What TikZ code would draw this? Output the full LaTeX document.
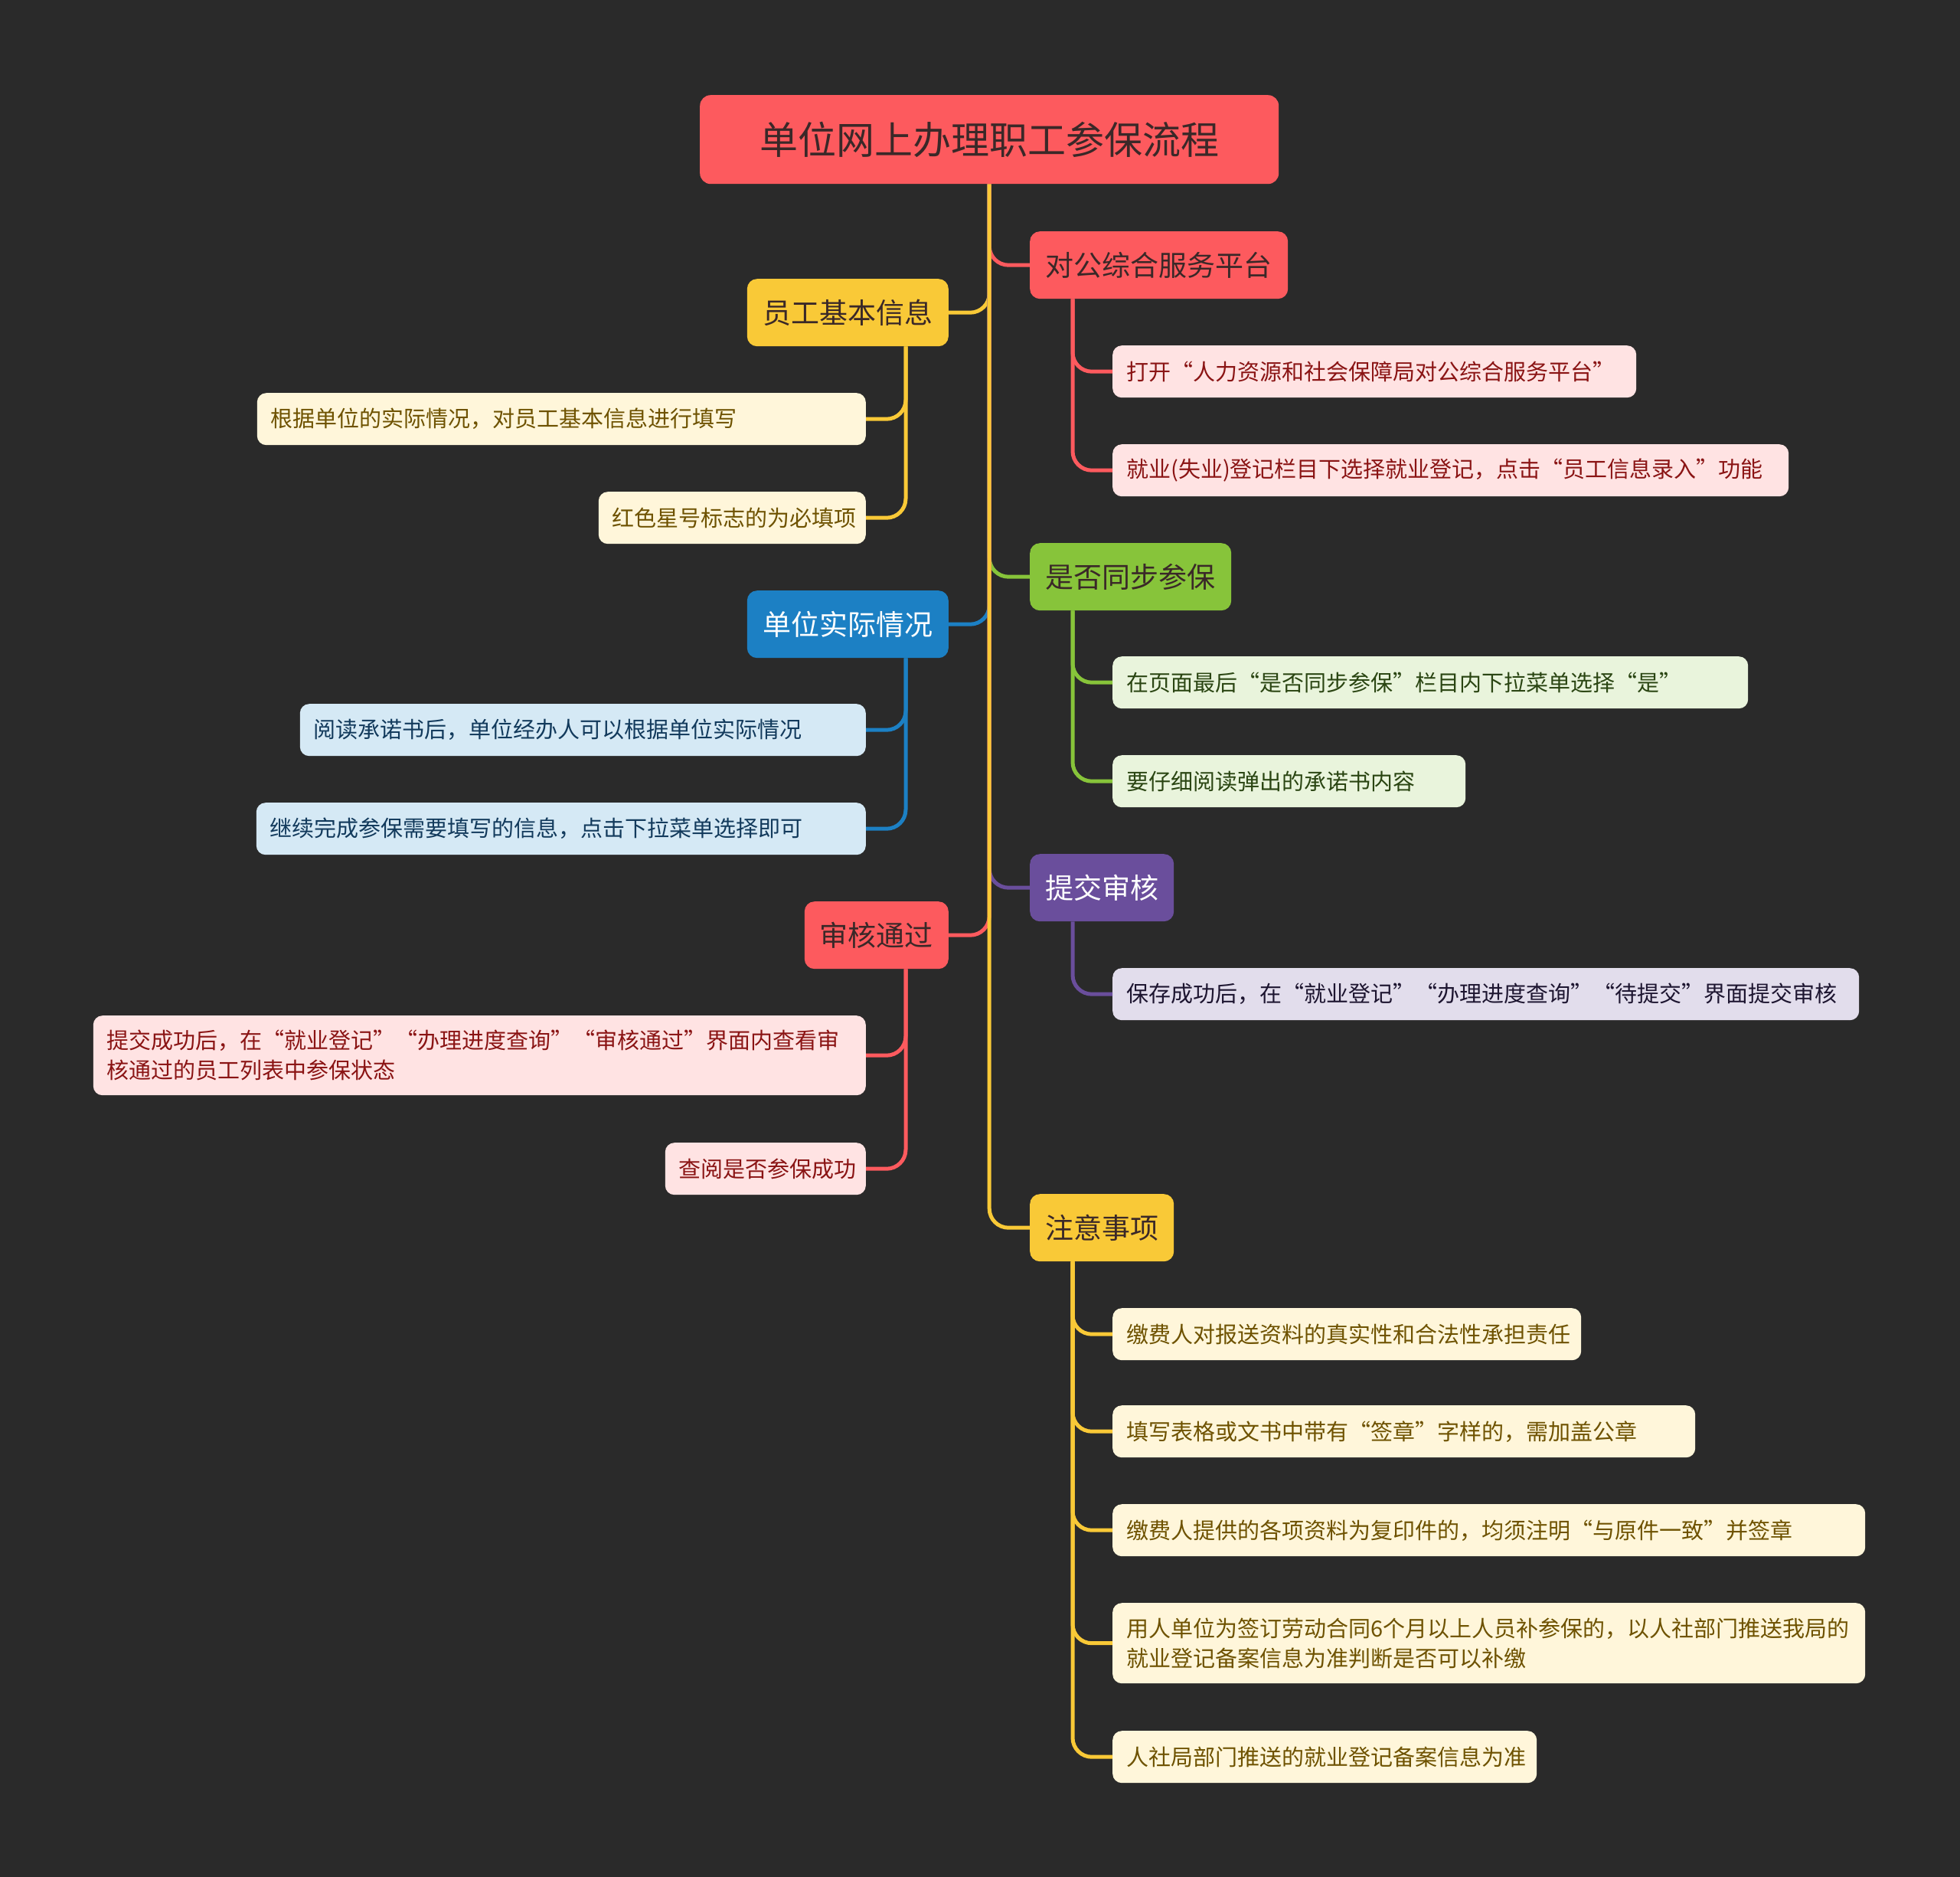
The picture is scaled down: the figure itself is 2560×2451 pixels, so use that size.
\documentclass[tikz,border=0pt]{standalone}
\usepackage{fontspec}
\newfontfamily\cjk{Noto Sans CJK SC}
\definecolor{bg}{HTML}{2A2A2A}
\definecolor{cred}{HTML}{FD5A5E}
\definecolor{cyel}{HTML}{F9C937}
\definecolor{cgrn}{HTML}{87C43A}
\definecolor{cblu}{HTML}{1C80C4}
\definecolor{cpur}{HTML}{6A4E9C}
\definecolor{lred}{HTML}{FFE3E3}
\definecolor{tred}{HTML}{8A1414}
\definecolor{lyel}{HTML}{FFF6DA}
\definecolor{tyel}{HTML}{6E5200}
\definecolor{lgrn}{HTML}{E9F4DC}
\definecolor{tgrn}{HTML}{2A4512}
\definecolor{lblu}{HTML}{D5E9F5}
\definecolor{tblu}{HTML}{123A5C}
\definecolor{lpur}{HTML}{E2DDEC}
\definecolor{tpur}{HTML}{1D1530}
\definecolor{tdark}{HTML}{3A2828}
\tikzset{
  rootbox/.style={rounded corners=14pt, fill=cred, text=tdark, inner sep=0pt,
    font=\cjk\fontsize{50}{60}\selectfont, anchor=north west,
    minimum width=756pt, minimum height=116pt},
  topic/.style={rounded corners=13pt, inner sep=0pt, align=center,
    font=\cjk\fontsize{37}{44}\selectfont, minimum height=88pt},
  sub/.style={rounded corners=12pt, inner xsep=18pt, inner ysep=0pt, align=left,
    font=\cjk\fontsize{29}{39}\selectfont, minimum height=68pt},
  link/.style={line width=5pt, rounded corners=25pt},
}
\begin{document}
\begin{tikzpicture}[x=1pt,y=-1pt]
\fill[bg] (0,0) rectangle (2560,2451);
\useasboundingbox (0,0) rectangle (2560,2451);

% root
\node[rootbox] (root) at (914,124) {单位网上办理职工参保流程};

% level 1
\node[topic, fill=cred, text=tdark, anchor=north west, minimum width=337pt] (n1) at (1345,302) {对公综合服务平台};
\node[topic, fill=cyel, text=tdark, anchor=north east, minimum width=263pt] (n2) at (1239,364) {员工基本信息};
\node[topic, fill=cgrn, text=tdark, anchor=north west, minimum width=263pt] (n3) at (1345,709) {是否同步参保};
\node[topic, fill=cblu, text=white, anchor=north east, minimum width=263pt] (n4) at (1239,771) {单位实际情况};
\node[topic, fill=cpur, text=white, anchor=north west, minimum width=188pt] (n5) at (1345,1115) {提交审核};
\node[topic, fill=cred, text=tdark, anchor=north east, minimum width=188pt] (n6) at (1239,1177) {审核通过};
\node[topic, fill=cyel, text=tdark, anchor=north west, minimum width=188pt] (n7) at (1345,1559) {注意事项};

% level 2 right
\node[sub, fill=lred, text=tred, anchor=north west, text width=648pt] (r1a) at (1453,451) {打开“人力资源和社会保障局对公综合服务平台”};
\node[sub, fill=lred, text=tred, anchor=north west, text width=847pt] (r1b) at (1453,580) {就业(失业)登记栏目下选择就业登记，点击“员工信息录入”功能};
\node[sub, fill=lgrn, text=tgrn, anchor=north west, text width=794pt] (r3a) at (1453,857) {在页面最后“是否同步参保”栏目内下拉菜单选择“是”};
\node[sub, fill=lgrn, text=tgrn, anchor=north west, text width=425pt] (r3b) at (1453,986) {要仔细阅读弹出的承诺书内容};
\node[sub, fill=lpur, text=tpur, anchor=north west, text width=939pt] (r5a) at (1453,1264) {保存成功后，在“就业登记”“办理进度查询”“待提交”界面提交审核};
\node[sub, fill=lyel, text=tyel, anchor=north west, text width=576pt] (r7a) at (1453,1708) {缴费人对报送资料的真实性和合法性承担责任};
\node[sub, fill=lyel, text=tyel, anchor=north west, text width=725pt] (r7b) at (1453,1835) {填写表格或文书中带有“签章”字样的，需加盖公章};
\node[sub, fill=lyel, text=tyel, anchor=north west, text width=947pt] (r7c) at (1453,1964) {缴费人提供的各项资料为复印件的，均须注明“与原件一致”并签章};
\node[sub, fill=lyel, text=tyel, anchor=north west, text width=947pt, minimum height=105pt] (r7d) at (1453,2093) {用人单位为签订劳动合同6个月以上人员补参保的，以人社部门推送我局的\\就业登记备案信息为准判断是否可以补缴};
\node[sub, fill=lyel, text=tyel, anchor=north west, text width=518pt] (r7e) at (1453,2260) {人社局部门推送的就业登记备案信息为准};

% level 2 left
\node[sub, fill=lyel, text=tyel, anchor=north east, text width=759pt] (l2a) at (1131,513) {根据单位的实际情况，对员工基本信息进行填写};
\node[sub, fill=lyel, text=tyel, anchor=north east, text width=313pt] (l2b) at (1131,642) {红色星号标志的为必填项};
\node[sub, fill=lblu, text=tblu, anchor=north east, text width=703pt] (l4a) at (1131,919) {阅读承诺书后，单位经办人可以根据单位实际情况};
\node[sub, fill=lblu, text=tblu, anchor=north east, text width=760pt] (l4b) at (1131,1048) {继续完成参保需要填写的信息，点击下拉菜单选择即可};
\node[sub, fill=lred, text=tred, anchor=north east, text width=973pt, minimum height=104pt] (l6a) at (1131,1326) {提交成功后，在“就业登记”“办理进度查询”“审核通过”界面内查看审\\核通过的员工列表中参保状态};
\node[sub, fill=lred, text=tred, anchor=north east, text width=226pt] (l6b) at (1131,1492) {查阅是否参保成功};

% child connectors
\draw[link, cred] ([xshift=56pt]n1.south west) |- (r1a.west);
\draw[link, cred] ([xshift=56pt]n1.south west) |- (r1b.west);
\draw[link, cgrn] ([xshift=56pt]n3.south west) |- (r3a.west);
\draw[link, cgrn] ([xshift=56pt]n3.south west) |- (r3b.west);
\draw[link, cpur] ([xshift=56pt]n5.south west) |- (r5a.west);
\draw[link, cyel] ([xshift=56pt]n7.south west) |- (r7a.west);
\draw[link, cyel] ([xshift=56pt]n7.south west) |- (r7b.west);
\draw[link, cyel] ([xshift=56pt]n7.south west) |- (r7c.west);
\draw[link, cyel] ([xshift=56pt]n7.south west) |- (r7d.west);
\draw[link, cyel] ([xshift=56pt]n7.south west) |- (r7e.west);
\draw[link, cyel] ([xshift=-56pt]n2.south east) |- (l2a.east);
\draw[link, cyel] ([xshift=-56pt]n2.south east) |- (l2b.east);
\draw[link, cblu] ([xshift=-56pt]n4.south east) |- (l4a.east);
\draw[link, cblu] ([xshift=-56pt]n4.south east) |- (l4b.east);
\draw[link, cred] ([xshift=-56pt]n6.south east) |- (l6a.east);
\draw[link, cred] ([xshift=-56pt]n6.south east) |- (l6b.east);

% root branches
\draw[link, cred] (root.south) |- (n1.west);
\draw[link, cyel] (root.south) |- (n2.east);
\draw[link, cgrn] (root.south) |- (n3.west);
\draw[link, cblu] (root.south) |- (n4.east);
\draw[link, cpur] (root.south) |- (n5.west);
\draw[link, cred] (root.south) |- (n6.east);
\draw[link, cyel] (root.south) |- (n7.west);
\end{tikzpicture}
\end{document}
